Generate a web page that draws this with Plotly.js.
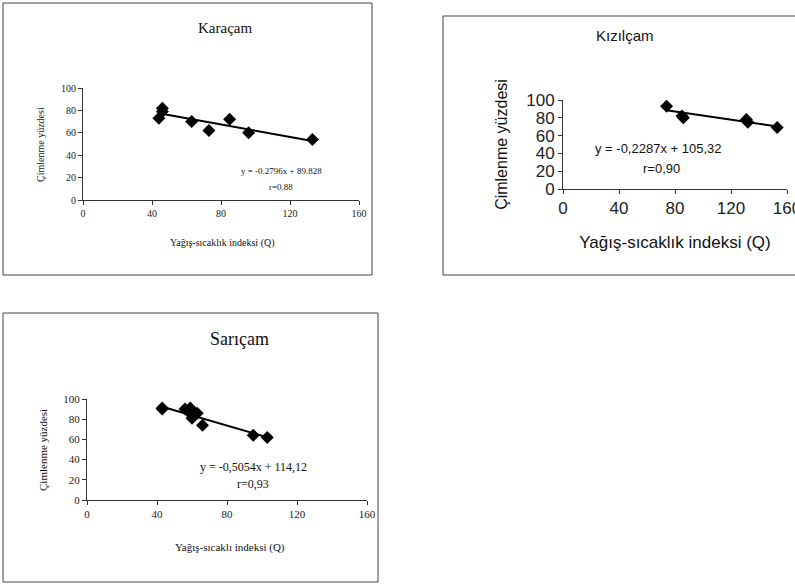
<!DOCTYPE html>
<html>
<head>
<meta charset="utf-8">
<script src="https://cdn.plot.ly/plotly-3.0.1.min.js"></script>
<style>html,body{margin:0;padding:0;background:#fff;}#chart{width:795px;height:585px;}</style>
</head>
<body>
<div id="chart"></div>
<script>
// ---- data ----
const karacamQ = [44, 46, 46, 63, 73, 85, 96, 133];
const karacamG = [73, 82, 79, 70, 62, 72, 60, 54];
const karacamSlope = -0.2796, karacamIntercept = 89.828;

const kizilcamQ = [74, 85, 86, 131, 132, 153];
const kizilcamG = [93, 82, 80, 78, 75, 69];
const kizilcamSlope = -0.2287, kizilcamIntercept = 105.32;

const saricamQ = [43, 43, 56, 59, 60, 60, 63, 66, 95, 103];
const saricamG = [91, 90, 90, 91, 84, 81, 86, 74, 64, 62];
const saricamSlope = -0.5054, saricamIntercept = 114.12;

const titles = ["Karaçam", "Kızılçam", "Sarıçam"];
const xTitles = ["Yağış-sıcaklık indeksi (Q)", "Yağış-sıcaklık indeksi (Q)", "Yağış-sıcaklı indeksi (Q)"];
const yTitle = "Çimlenme yüzdesi";
const equations = ["y = -0.2796x + 89.828", "y = -0,2287x + 105,32", "y = -0,5054x + 114,12"];
const rTexts = ["r=0.88", "r=0,90", "r=0,93"];
const xTicks = [0, 40, 80, 120, 160];
const yTicks = [0, 20, 40, 60, 80, 100];

// ---- helpers ----
const W = 795, H = 585;
const px = v => v / W;
const py = v => 1 - v / H;
const serif = "Liberation Serif, Times New Roman, serif";
const sans = "Liberation Sans, Arial, sans-serif";

function trend(xs, m, b) {
  const x0 = Math.min(...xs), x1 = Math.max(...xs);
  return { x: [x0, x1], y: [m * x0 + b, m * x1 + b] };
}

const sets = [
  { q: karacamQ, g: karacamG, m: karacamSlope, b: karacamIntercept, xa: "x", ya: "y" },
  { q: kizilcamQ, g: kizilcamG, m: kizilcamSlope, b: kizilcamIntercept, xa: "x2", ya: "y2" },
  { q: saricamQ, g: saricamG, m: saricamSlope, b: saricamIntercept, xa: "x3", ya: "y3" }
];

const traces = [];
sets.forEach(s => {
  traces.push({ x: s.q, y: s.g, xaxis: s.xa, yaxis: s.ya, type: "scatter", mode: "markers",
    marker: { symbol: "diamond", size: 10, color: "#000" }, showlegend: false });
  const t = trend(s.q, s.m, s.b);
  traces.push({ x: t.x, y: t.y, xaxis: s.xa, yaxis: s.ya, type: "scatter", mode: "lines",
    line: { color: "#000", width: 2 }, showlegend: false });
});

function xAxis(d0, d1, anchor, font) {
  return { domain: [px(d0), px(d1)], anchor: anchor, range: [0, 160], tickvals: xTicks,
    ticklabeloverflow: "allow", tickangle: 0,
    showline: true, linecolor: "#333", linewidth: 1, ticks: "outside", ticklen: 4, tickcolor: "#333",
    showgrid: false, zeroline: false, tickfont: font };
}
function yAxis(d0, d1, anchor, font) {
  return { domain: [py(d1), py(d0)], anchor: anchor, range: [0, 100], tickvals: yTicks,
    showline: true, linecolor: "#333", linewidth: 1, ticks: "outside", ticklen: 4, tickcolor: "#333",
    showgrid: false, zeroline: false, tickfont: font };
}

const x2 = xAxis(563, 787, "y2", { family: sans, size: 17, color: "#222" });
x2.title = { text: xTitles[1], font: { family: sans, size: 17, color: "#111" }, standoff: 18 };
const y2 = yAxis(100, 189, "x2", { family: sans, size: 17, color: "#222" });
y2.title = { text: yTitle, font: { family: sans, size: 16, color: "#111" }, standoff: 14 };

const layout = {
  width: W, height: H, margin: { l: 0, r: 0, t: 0, b: 0 },
  paper_bgcolor: "#fff", plot_bgcolor: "rgba(0,0,0,0)", showlegend: false,
  xaxis: xAxis(83, 359, "y", { family: serif, size: 10, color: "#222" }),
  yaxis: yAxis(88, 200, "x", { family: serif, size: 10, color: "#222" }),
  xaxis2: x2,
  yaxis2: y2,
  xaxis3: xAxis(87, 367, "y3", { family: serif, size: 11, color: "#222" }),
  yaxis3: yAxis(399, 500, "x3", { family: serif, size: 11, color: "#222" }),
  shapes: [
    { type: "rect", xref: "paper", yref: "paper", x0: px(3), x1: px(372), y0: py(275), y1: py(3), layer: "below", line: { color: "#444", width: 1 } },
    { type: "rect", xref: "paper", yref: "paper", x0: px(443), x1: px(799), y0: py(275), y1: py(16), layer: "below", line: { color: "#444", width: 1 } },
    { type: "rect", xref: "paper", yref: "paper", x0: px(3), x1: px(378), y0: py(582), y1: py(313), layer: "below", line: { color: "#444", width: 1 } }
  ],
  annotations: []
};

function ann(text, x, y, font, angle) {
  layout.annotations.push({ text: text, xref: "paper", yref: "paper", x: px(x), y: py(y),
    xanchor: "center", yanchor: "middle", showarrow: false, font: font, textangle: angle || 0 });
}

// Panel 1 (Karaçam)
ann(titles[0], 225, 28, { family: serif, size: 15, color: "#111" });
ann(yTitle, 40, 145, { family: serif, size: 10, color: "#111" }, -90);
ann(xTitles[0], 222, 243, { family: serif, size: 10, color: "#111" });
ann(equations[0], 281, 171, { family: serif, size: 9, color: "#111" });
ann(rTexts[0], 281, 187, { family: serif, size: 9, color: "#111" });

// Panel 2 (Kızılçam)
ann(titles[1], 625, 35, { family: sans, size: 15, color: "#111" });
ann(equations[1], 658, 148, { family: sans, size: 13, color: "#111" });
ann(rTexts[1], 661, 168, { family: sans, size: 13, color: "#111" });

// Panel 3 (Sarıçam)
ann(titles[2], 239, 339, { family: serif, size: 18, color: "#111" });
ann(yTitle, 43, 450, { family: serif, size: 11, color: "#111" }, -90);
ann(xTitles[2], 230, 547, { family: serif, size: 11, color: "#111" });
ann(equations[2], 253, 467, { family: serif, size: 12, color: "#111" });
ann(rTexts[2], 253, 484, { family: serif, size: 12, color: "#111" });

Plotly.newPlot("chart", traces, layout, { displayModeBar: false, staticPlot: true });
</script>
</body>
</html>
